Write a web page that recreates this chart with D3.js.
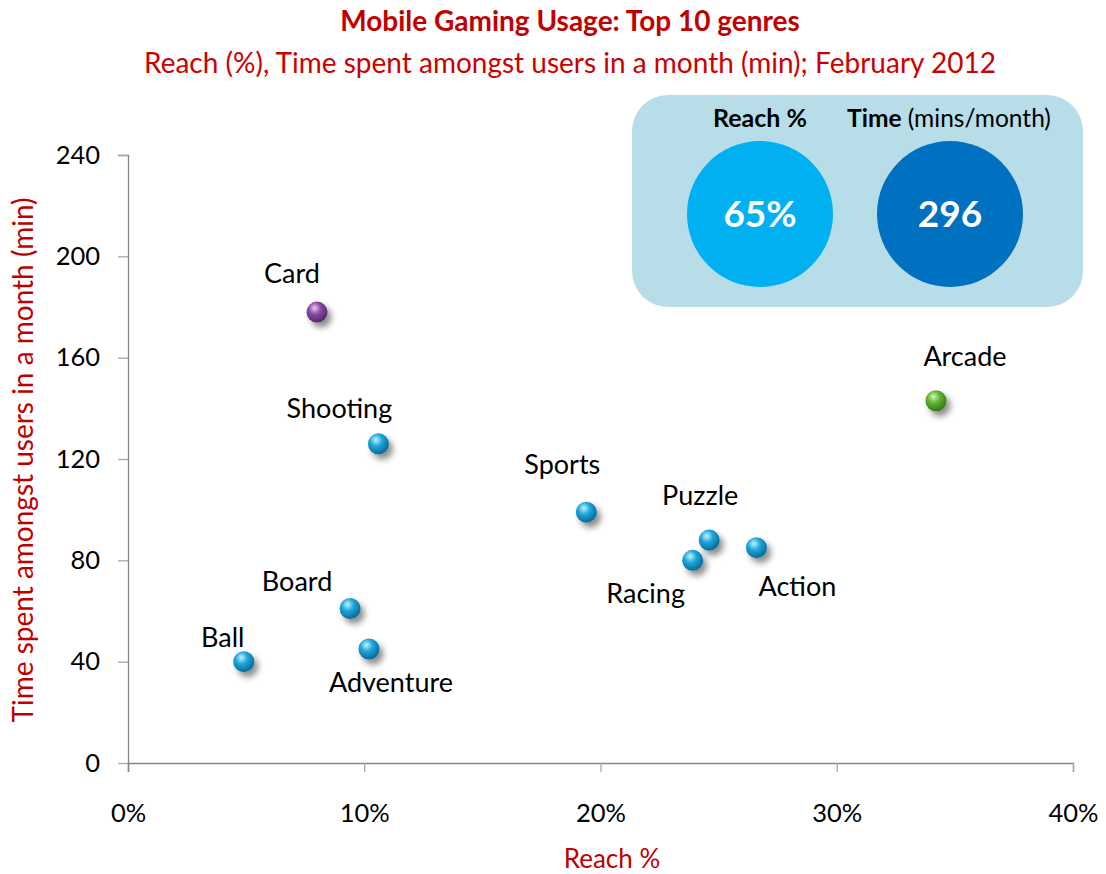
<!DOCTYPE html>
<html>
<head>
<meta charset="utf-8">
<script src="https://cdn.jsdelivr.net/npm/d3@7"></script>
<style>
  body { margin: 0; background: #fff; }
  svg { display: block; font-family: Lato, "Open Sans", sans-serif; }
</style>
</head>
<body>
<div id="root"></div>
<script>
// data
const genres = ["Card", "Shooting", "Sports", "Puzzle", "Racing", "Action", "Arcade", "Board", "Ball", "Adventure"]
const reachPct = [8.0, 10.6, 19.4, 24.6, 23.9, 26.6, 34.2, 9.4, 4.9, 10.2]
const timeMin = [178, 126, 99, 88, 80, 85, 143, 61, 40, 45]
const xTicks = [0, 10, 20, 30, 40]
const yTicks = [0, 40, 80, 120, 160, 200, 240]
const summaryLabels = ["Reach %", "Time"]
const summaryValues = ["65%", "296"]

// label placement (dx, dy from point centre) and ball colour
const labelOffset = {
  Card: [-25, -39], Shooting: [-39, -35], Sports: [-24, -48], Puzzle: [-9, -45],
  Racing: [-47, 33], Action: [41, 39], Arcade: [29, -44], Board: [-53, -27],
  Ball: [-21, -24], Adventure: [22, 34]
}
const ballColor = { Card: "purple", Arcade: "green" }

const width = 1106, height = 874
const margin = { top: 155, right: 33, bottom: 111, left: 128 }
const bound = { width: width - margin.left - margin.right, height: height - margin.top - margin.bottom }
const red = "#C00000"

const svg = d3.select("#root").append("svg")
  .attr("width", width).attr("height", height)

// gradients + shadow for the 3d balls
const defs = svg.append("defs")
const palettes = {
  blue: ["#c4f2ff", "#1ea6dc", "#0a6a98"],
  purple: ["#e6c8f0", "#8a4aa6", "#56286b"],
  green: ["#d8f5b8", "#62b534", "#347a14"]
}
Object.entries(palettes).forEach(([k, c]) => {
  const g = defs.append("radialGradient").attr("id", "ball-" + k)
    .attr("cx", "40%").attr("cy", "35%").attr("r", "65%").attr("fx", "38%").attr("fy", "30%")
  g.append("stop").attr("offset", "0%").attr("stop-color", c[0])
  g.append("stop").attr("offset", "45%").attr("stop-color", c[1])
  g.append("stop").attr("offset", "100%").attr("stop-color", c[2])
})
const shadow = defs.append("filter").attr("id", "shadow")
  .attr("x", "-50%").attr("y", "-50%").attr("width", "220%").attr("height", "220%")
shadow.append("feDropShadow").attr("dx", 4).attr("dy", 5).attr("stdDeviation", 3)
  .attr("flood-color", "#000").attr("flood-opacity", 0.45)

// titles
svg.append("text").attr("x", 570).attr("y", 31).attr("text-anchor", "middle")
  .attr("fill", red).attr("font-size", 28).attr("font-weight", "bold")
  .text("Mobile Gaming Usage: Top 10 genres")
svg.append("text").attr("x", 570).attr("y", 73).attr("text-anchor", "middle")
  .attr("fill", "#CC0000").attr("font-size", 28)
  .text("Reach (%), Time spent amongst users in a month (min); February 2012")

const Bound = svg.append("g").attr("transform", `translate(${margin.left},${margin.top})`)

const xScale = d3.scaleLinear().domain([0, 40]).range([0, bound.width])
const yScale = d3.scaleLinear().domain([0, 240]).range([bound.height, 0])

const xAxis = Bound.append("g")
  .attr("transform", `translate(0,${bound.height})`)
  .call(d3.axisBottom(xScale).tickValues(xTicks).tickSize(9).tickPadding(32).tickFormat(d => d + "%"))
const yAxis = Bound.append("g")
  .call(d3.axisLeft(yScale).tickValues(yTicks).tickSize(10).tickPadding(18))
;[xAxis, yAxis].forEach(a => {
  a.selectAll("path").attr("stroke", "#868686").attr("stroke-width", 1.3)
  a.selectAll("line").attr("stroke", "#a6a6a6").attr("stroke-width", 1.3)
  a.selectAll("text").attr("fill", "#000").attr("font-size", 25.5).attr("font-family", "Lato, 'Open Sans', sans-serif")
})
// y axis line goes down past the x axis like the tick
yAxis.select("path").attr("d", `M-10,0.5H0.5V${bound.height + 9}`)

// axis titles
svg.append("text").attr("x", 612).attr("y", 868).attr("text-anchor", "middle")
  .attr("fill", red).attr("font-size", 26).text("Reach %")
svg.append("text").attr("transform", "translate(33,460) rotate(-90)").attr("text-anchor", "middle")
  .attr("fill", red).attr("font-size", 28).text("Time spent amongst users in a month (min)")

// points
const points = genres.map((g, i) => ({ name: g, x: reachPct[i], y: timeMin[i] }))
Bound.selectAll("circle.ball").data(points).join("circle")
  .attr("class", "ball")
  .attr("cx", d => xScale(d.x))
  .attr("cy", d => yScale(d.y))
  .attr("r", 10.5)
  .attr("fill", d => `url(#ball-${ballColor[d.name] || "blue"})`)
  .attr("filter", "url(#shadow)")

Bound.selectAll("text.lbl").data(points).join("text")
  .attr("class", "lbl")
  .attr("x", d => xScale(d.x) + labelOffset[d.name][0])
  .attr("y", d => yScale(d.y) + labelOffset[d.name][1])
  .attr("dy", "0.35em")
  .attr("text-anchor", "middle")
  .attr("font-size", 27)
  .attr("fill", "#000")
  .text(d => d.name)

// summary panel
const panel = svg.append("g").attr("transform", "translate(632,95)")
panel.append("rect").attr("width", 451).attr("height", 212).attr("rx", 36)
  .attr("fill", "#B7DDE8")
const circleX = [128, 318]
const circleFill = ["#00B0F0", "#0070C0"]
summaryValues.forEach((v, i) => {
  panel.append("circle").attr("cx", circleX[i]).attr("cy", 119).attr("r", 73).attr("fill", circleFill[i])
  panel.append("text").attr("x", circleX[i]).attr("y", 119).attr("dy", "0.36em")
    .attr("text-anchor", "middle").attr("fill", "#fff").attr("font-size", 37).attr("font-weight", "bold")
    .text(v)
})
panel.append("text").attr("x", circleX[0]).attr("y", 32).attr("text-anchor", "middle")
  .attr("font-size", 25).attr("font-weight", "bold").text(summaryLabels[0])
const t2 = panel.append("text").attr("x", circleX[1] - 1).attr("y", 32).attr("text-anchor", "middle")
  .attr("font-size", 24.5)
t2.append("tspan").attr("font-weight", "bold").text(summaryLabels[1])
t2.append("tspan").text(" (mins/month)")
</script>
</body>
</html>
